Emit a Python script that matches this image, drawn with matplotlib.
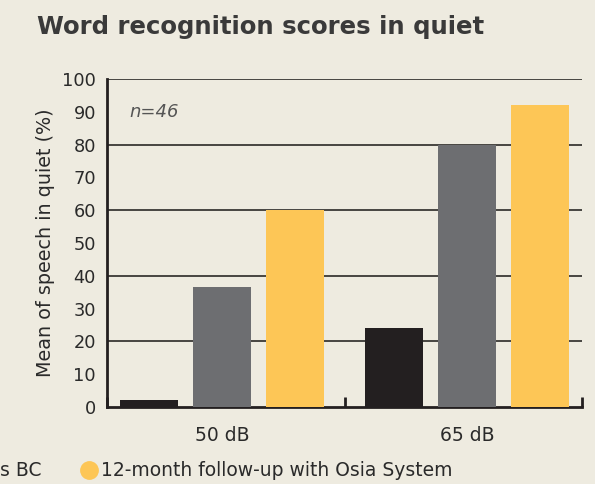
import numpy as np
import matplotlib.pyplot as plt
from matplotlib.lines import Line2D

categories = ['50 dB', '65 dB']
unaided = [2, 24]
previous_bc = [36.5, 80]
osia_12m = [60, 92]
series_colors = ['#231f20', '#6d6e71', '#fdc656']
y_ticks = [0, 10, 20, 30, 40, 50, 60, 70, 80, 90, 100]

bg = '#eeebe0'
ink = '#231f20'

plt.rcParams['font.family'] = ['DejaVu Sans']

fig = plt.figure(figsize=(5.95, 4.84), dpi=100, facecolor=bg)
ax = fig.add_axes([107 / 595, 1 - 407 / 484, 475 / 595, 328 / 484], facecolor=bg)

x = np.arange(len(categories))
step = 0.298
width = 0.24
for k, vals in enumerate([unaided, previous_bc, osia_12m]):
    ax.bar(x + (k - 1) * step, vals, width, color=series_colors[k], zorder=3)

ax.set_xlim(-0.47, 1.47)
ax.set_ylim(0, 100)
ax.set_yticks(y_ticks)
ax.set_yticklabels([str(t) for t in y_ticks], fontsize=12.8, color='#2a2a2a')
for g in [20, 40, 60, 80, 100]:
    ax.axhline(g, color='#3a3835', lw=1.3, zorder=1)

ax.set_xticks(x)
ax.set_xticklabels(categories, fontsize=13.5, color='#2a2a2a')
ax.tick_params(axis='x', length=0, pad=14)
ax.tick_params(axis='y', length=0, pad=8)
ax.set_xticks([-0.47, 0.5, 1.47], minor=True)
ax.tick_params(axis='x', which='minor', direction='in', length=7, width=2, color=ink)

for s in ['top', 'right']:
    ax.spines[s].set_visible(False)
for s in ['left', 'bottom']:
    ax.spines[s].set_color(ink)
    ax.spines[s].set_linewidth(2)

ax.set_ylabel('Mean of speech in quiet (%)', fontsize=13.8, color='#2a2a2a', labelpad=5)

ax.text(-0.38, 90, 'n=46', fontsize=13, style='italic', color='#555555', va='center')

fig.text(37 / 595, 1 - 27 / 484, 'Word recognition scores in quiet',
         fontsize=17.6, fontweight='bold', color='#3a3a3a', va='center')

fig.text(0, 1 - 471 / 484, 's BC', fontsize=13.5, color='#2a2a2a', va='center')
handle = Line2D([], [], marker='o', ls='none', markersize=12.5, color=series_colors[2])
fig.legend([handle], ['12-month follow-up with Osia System'], loc='center left',
           bbox_to_anchor=(81 / 595, 1 - 471 / 484), frameon=False, fontsize=13.5,
           handlelength=0.9, handletextpad=0.15, borderpad=0, borderaxespad=0,
           labelcolor='#2a2a2a')

fig.savefig('out.png', dpi=100, facecolor=bg)
